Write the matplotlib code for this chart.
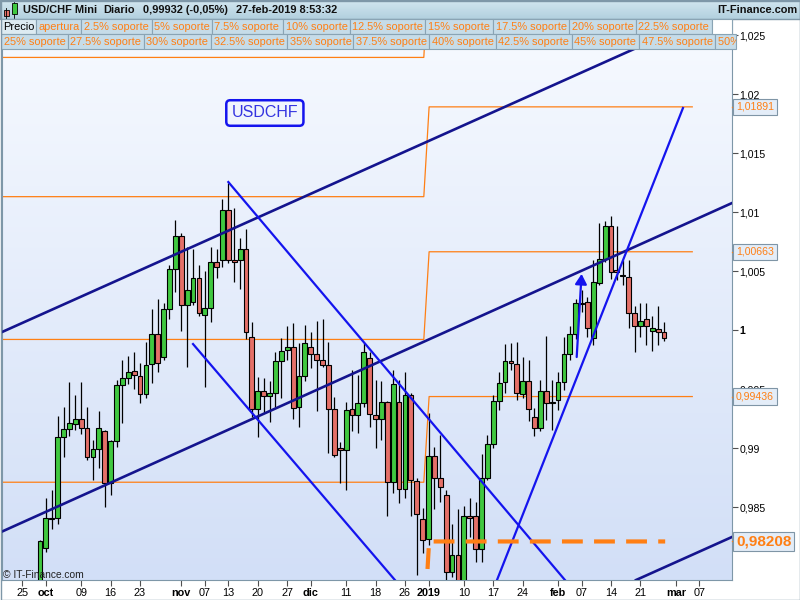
import matplotlib.pyplot as plt
import numpy as np
import pandas as pd
from matplotlib.patches import Rectangle
from matplotlib.colors import LinearSegmentedColormap

plt.rcParams['font.family'] = ['Liberation Sans', 'DejaVu Sans']

# calendario de sesiones: sin fines de semana, sin 25-dic ni 1-ene
cal = pd.bdate_range("2018-09-24", "2019-03-20")
cal = cal[~cal.isin(pd.to_datetime(["2018-12-25", "2019-01-01"]))]
pos = {d: i for i, d in enumerate(cal)}
dates = cal[(cal >= "2018-09-28") & (cal <= "2019-02-27")]

# USD/CHF diario
opens = [0.9765, 0.9815, 0.9840, 0.9841, 0.9909, 0.9916, 0.9920, 0.9925, 0.9917, 0.9892,
         0.9899, 0.9914, 0.9870, 0.9906, 0.9953, 0.9959, 0.9965, 0.9961, 0.9946, 0.9971,
         0.9997, 0.9977, 1.0018, 1.0052, 1.0080, 1.0021, 1.0024, 1.0044, 1.0013, 1.0019,
         1.0058, 1.0059, 1.0102, 1.0059, 1.0059, 1.0069, 0.9994, 0.9933, 0.9948, 0.9944,
         0.9947, 0.9974, 0.9983, 0.9986, 0.9935, 0.9961, 0.9986, 0.9980, 0.9975, 0.9970,
         0.9933, 0.9900, 0.9898, 0.9933, 0.9928, 0.9938, 0.9976, 0.9928, 0.9925, 0.9939,
         0.9871, 0.9939, 0.9865, 0.9945, 0.9872, 0.9840, 0.9823, 0.9893, 0.9875, 0.9860,
         0.9795, 0.9809, 0.9780, 0.9842, 0.9842, 0.9814, 0.9875, 0.9903, 0.9940, 0.9956,
         0.9974, 0.9971, 0.9946, 0.9957, 0.9926, 0.9917, 0.9948, 0.9939, 0.9941, 0.9956,
         0.9980, 0.9997, 1.0023, 1.0024, 0.9993, 1.0040, 1.0060, 1.0088, 1.0051, 1.0046,
         1.0045, 1.0014, 1.0003, 1.0009, 0.9999, 1.0001, 0.9998]
highs = [0.9822, 0.9858, 0.9864, 0.9927, 0.9935, 0.9956, 0.9945, 0.9956, 0.9935, 0.9907,
         0.9931, 0.9915, 0.9907, 0.9958, 0.9975, 0.9978, 0.9981, 0.9972, 0.9990, 1.0018,
         1.0026, 1.0023, 1.0055, 1.0093, 1.0082, 1.0070, 1.0069, 1.0055, 1.0050, 1.0070,
         1.0069, 1.0111, 1.0125, 1.0103, 1.0078, 1.0086, 1.0007, 0.9960, 0.9959, 0.9957,
         0.9981, 0.9993, 1.0003, 1.0006, 0.9989, 1.0004, 0.9998, 1.0008, 1.0009, 0.9990,
         0.9943, 0.9905, 0.9939, 0.9966, 0.9962, 0.9989, 0.9981, 0.9958, 0.9957, 0.9940,
         0.9966, 0.9958, 0.9964, 0.9947, 0.9875, 0.9849, 0.9930, 0.9901, 0.9911, 0.9864,
         0.9836, 0.9848, 0.9851, 0.9858, 0.9854, 0.9895, 0.9911, 0.9945, 0.9964, 0.9988,
         0.9989, 0.9990, 0.9977, 0.9975, 0.9934, 0.9958, 0.9995, 0.9958, 0.9964, 0.9994,
         1.0003, 1.0026, 1.0034, 1.0028, 1.0059, 1.0091, 1.0092, 1.0097, 1.0088, 1.0059,
         1.0059, 1.0020, 1.0023, 1.0023, 1.0012, 1.0020, 1.0007]
lows = [0.9758, 0.9812, 0.9831, 0.9836, 0.9892, 0.9910, 0.9915, 0.9912, 0.9890, 0.9873,
        0.9883, 0.9850, 0.9860, 0.9901, 0.9921, 0.9954, 0.9950, 0.9938, 0.9942, 0.9955,
        0.9964, 0.9975, 1.0009, 1.0032, 0.9999, 0.9969, 1.0021, 1.0012, 0.9952, 1.0007,
        1.0044, 1.0053, 1.0057, 1.0041, 1.0035, 0.9992, 0.9926, 0.9909, 0.9930, 0.9922,
        0.9935, 0.9942, 0.9975, 0.9925, 0.9918, 0.9957, 0.9968, 0.9931, 0.9969, 0.9896,
        0.9892, 0.9870, 0.9864, 0.9914, 0.9913, 0.9935, 0.9918, 0.9900, 0.9907, 0.9842,
        0.9862, 0.9853, 0.9858, 0.9842, 0.9792, 0.9811, 0.9818, 0.9848, 0.9854, 0.9779,
        0.9791, 0.9772, 0.9772, 0.9825, 0.9803, 0.9803, 0.9873, 0.9900, 0.9932, 0.9947,
        0.9966, 0.9941, 0.9942, 0.9923, 0.9910, 0.9914, 0.9924, 0.9915, 0.9932, 0.9949,
        0.9975, 0.9992, 1.0015, 0.9994, 0.9987, 1.0038, 1.0058, 1.0043, 1.0042, 1.0038,
        1.0002, 0.9981, 0.9994, 0.9987, 0.9982, 0.9987, 0.9991]
closes = [0.9821, 0.9841, 0.9841, 0.9909, 0.9916, 0.9921, 0.9925, 0.9917, 0.9892, 0.9899,
          0.9917, 0.9870, 0.9906, 0.9953, 0.9959, 0.9964, 0.9962, 0.9946, 0.9970, 0.9997,
          0.9972, 1.0018, 1.0052, 1.0080, 1.0021, 1.0034, 1.0044, 1.0014, 1.0019, 1.0058,
          1.0053, 1.0102, 1.0059, 1.0058, 1.0069, 0.9998, 0.9933, 0.9948, 0.9944, 0.9947,
          0.9974, 0.9982, 0.9986, 0.9934, 0.9961, 0.9989, 0.9980, 0.9975, 0.9970, 0.9933,
          0.9894, 0.9898, 0.9932, 0.9928, 0.9938, 0.9981, 0.9929, 0.9925, 0.9939, 0.9871,
          0.9954, 0.9865, 0.9945, 0.9873, 0.9844, 0.9822, 0.9893, 0.9875, 0.9867, 0.9795,
          0.9809, 0.9780, 0.9842, 0.9841, 0.9814, 0.9875, 0.9903, 0.9940, 0.9955, 0.9974,
          0.9972, 0.9947, 0.9957, 0.9933, 0.9917, 0.9948, 0.9938, 0.9938, 0.9956, 0.9980,
          0.9997, 1.0023, 1.0022, 1.0002, 1.0041, 1.0060, 1.0088, 1.0049, 1.0049, 1.0046,
          1.0014, 1.0003, 1.0008, 1.0003, 1.0002, 0.9998, 0.9993]

# niveles (pivotes anuales): 2018 y 2019
niveles_2018 = [1.0231, 1.0113, 0.9992, 0.9871]
niveles_2019 = [1.0312, 1.01891, 1.00663, 0.99436]
apertura_2018 = 0.9743
apertura_2019 = 0.98208

# lineas de tendencia: (posicion en calendario, precio)
canal_sup = [(-2.8, 0.99975), (104.9, 1.02381)]
canal_inf = [(-2.8, 0.98284), (121.55, 1.01076)]
canal_3 = [(105.24, 0.97881), (121.55, 0.98246)]
bajista_1 = [(36.0, 1.01254), (93.18, 0.97881)]
bajista_2 = [(30.0, 0.99881), (64.3, 0.97881)]
alcista = [(81.63, 0.97881), (113.22, 1.01881)]
flecha = [(95.17, 0.99771), (96.0, 1.00475)]

tick_dates = ["2018-09-25", "2018-10-01", "2018-10-09", "2018-10-16", "2018-10-23",
              "2018-11-01", "2018-11-07", "2018-11-13", "2018-11-20", "2018-11-27",
              "2018-12-03", "2018-12-11", "2018-12-18", "2018-12-26", "2019-01-02",
              "2019-01-10", "2019-01-17", "2019-01-24", "2019-02-01", "2019-02-07",
              "2019-02-14", "2019-02-21", "2019-03-01", "2019-03-07"]
tick_labels = ["25", "oct", "09", "16", "23", "nov", "07", "13", "20", "27", "dic", "11",
               "18", "26", "2019", "10", "17", "24", "feb", "07", "14", "21", "mar", "07"]
bold_labels = ["oct", "nov", "dic", "2019", "feb", "mar"]
yticks = [0.985, 0.99, 0.995, 1.0, 1.005, 1.01, 1.015, 1.02, 1.025]

fila1 = ["Precio", "apertura", "2.5% soporte", "5% soporte", "7.5% soporte", "10% soporte",
         "12.5% soporte", "15% soporte", "17.5% soporte", "20% soporte", "22.5% soporte"]
fila2 = ["25% soporte", "27.5% soporte", "30% soporte", "32.5% soporte", "35% soporte",
         "37.5% soporte", "40% soporte", "42.5% soporte", "45% soporte", "47.5% soporte",
         "50% soporte"]
x_fila1 = [1, 36, 81, 152, 212, 283, 350, 425, 493, 569, 636, 712]
x_fila2 = [1, 68, 144, 211, 287, 353, 429, 496, 572, 639, 715, 790]

GREEN, RED = '#40C840', '#E47068'
ORANGE = '#FF7F14'
NAVY, BLUE = '#14148E', '#1414EE'
BORDER = '#7E97A8'

W, H = 800, 600
def frac(x0, y0, x1, y1):
    return [x0 / W, 1 - y1 / H, (x1 - x0) / W, (y1 - y0) / H]

fig = plt.figure(figsize=(8, 6), dpi=100, facecolor='white')
ax = fig.add_axes(frac(2, 19, 732, 580))

bg = LinearSegmentedColormap.from_list('bg', ['#F7FAFF', '#D2DFF7'])
ax.imshow(np.linspace(0, 1, 256)[:, None], cmap=bg, extent=[0, 1, 0, 1],
          transform=ax.transAxes, aspect='auto', zorder=0)

x0, x1 = -2.45, 121.55
ax.set_xlim(x0, x1)
ax.set_ylim(0.978814, 1.026356)

# niveles naranja
sw0, sw1, fin = 69.2, 70.1, 114.8
for a, b in zip(niveles_2018, niveles_2019):
    ax.plot([x0, sw0, sw1, fin], [a, a, b, b], color=ORANGE, lw=0.9, zorder=2)
ax.plot([x0, sw0, sw1, 110.2], [apertura_2018, apertura_2018, apertura_2019, apertura_2019],
        color=ORANGE, lw=3, dashes=(5, 2.7), zorder=6)

# velas
o, h, l, c = map(np.array, (opens, highs, lows, closes))
xs = np.array([pos[d] for d in dates])
up = c >= o
ax.vlines(xs, l, h, color='black', lw=0.9, zorder=3)
ax.bar(xs, np.maximum(np.abs(c - o), 0.00004), bottom=np.minimum(o, c), width=0.82,
       color=np.where(up, GREEN, RED), edgecolor='black', lw=0.8, zorder=4)

# lineas de tendencia
for ln in (canal_sup, canal_inf, canal_3):
    ax.plot(*zip(*ln), color=NAVY, lw=1.9, zorder=5)
for ln in (bajista_1, bajista_2, alcista):
    ax.plot(*zip(*ln), color=BLUE, lw=1.6, zorder=5)
ax.annotate("", xy=flecha[1], xytext=flecha[0],
            arrowprops=dict(arrowstyle='-|>,head_length=0.6,head_width=0.35', color=BLUE,
                            lw=1.6, shrinkA=0, shrinkB=0, mutation_scale=10), zorder=5)

ax.text(42.2, 1.01839, "USDCHF", fontsize=11.5, color='#3434E0', ha='center', va='center',
        bbox=dict(boxstyle='round,pad=0.33,rounding_size=0.25', fc='none', ec=BLUE, lw=1.8),
        zorder=6)

# ejes
for s in ('left', 'bottom', 'right'):
    ax.spines[s].set_color(BORDER)
ax.spines['top'].set_visible(False)
ax.yaxis.tick_right()
ax.set_yticks(yticks)
ax.set_yticklabels([f"{v:g}".replace('.', ',') for v in yticks])
ax.tick_params(axis='y', direction='out', length=4, width=0.8, color='#505050',
               labelsize=7.6, pad=1.5)
for t in ax.get_yticklabels():
    if t.get_text() == "1":
        t.set_fontweight('bold')
ax.set_xticks([pos[pd.Timestamp(d)] for d in tick_dates])
ax.set_xticklabels(tick_labels)
ax.tick_params(axis='x', direction='out', length=4, width=0.8, color='#505050',
               labelsize=7.8, pad=1.5)
for t in ax.get_xticklabels():
    if t.get_text() in bold_labels:
        t.set_fontweight('bold')

ytr = ax.get_yaxis_transform()
for v in niveles_2019[1:]:
    ax.plot([1.0, 1.005], [v, v], color=ORANGE, lw=0.9, transform=ytr, clip_on=False, zorder=9)
    ax.text(1.0055, v, f"{v:.5f}".replace('.', ','), transform=ytr, ha='left', va='center',
            fontsize=7.6, color=ORANGE, clip_on=False, zorder=10,
            bbox=dict(boxstyle='square,pad=0.3', fc='#E4EDF8', ec='#7F95A6', lw=0.8))
ax.plot([1.0, 1.005], [apertura_2019] * 2, color=ORANGE, lw=0.9, transform=ytr,
        clip_on=False, zorder=9)
ax.text(1.0055, apertura_2019, f"{apertura_2019:.5f}".replace('.', ','), transform=ytr,
        ha='left', va='center', fontsize=11, fontweight='bold', color=ORANGE, clip_on=False,
        zorder=10, bbox=dict(boxstyle='square,pad=0.18', fc='#E4EDF8', ec='#7F95A6', lw=0.8))

# cabecera y leyenda (coordenadas de pixel)
ov = fig.add_axes([0, 0, 1, 1], zorder=10)
ov.patch.set_visible(False)
hdr = LinearSegmentedColormap.from_list('hdr', ['#D2E6F0', '#B2D0DE'])
ov.imshow(np.linspace(0, 1, 64)[:, None], cmap=hdr, extent=[0, 800, 19, 0], aspect='auto')
ov.set_xlim(0, 800)
ov.set_ylim(600, 0)
ov.axis('off')
ov.add_patch(Rectangle((0, 0), 800, 19, fill=False, ec=BORDER, lw=1))

ov.add_patch(Rectangle((3.5, 10), 5, 6, fc=RED, ec='black', lw=0.6))
ov.plot([6, 6], [8, 18], color='black', lw=0.6)
ov.add_patch(Rectangle((11.5, 3), 5, 11, fc=GREEN, ec='black', lw=0.6))
ov.plot([14, 14], [1.5, 18], color='black', lw=0.6, zorder=0)

hf = dict(fontsize=7.9, fontweight='bold', va='center', color='#111111')
ov.text(23, 10, "USD/CHF Mini", **hf)
ov.text(103, 10, "Diario", **hf)
ov.text(143, 10, "0,99932 (-0,05%)", **hf)
ov.text(236, 10, "27-feb-2019 8:53:32", **hf)
ov.text(797, 10, "IT-Finance.com", ha='right', **hf)

for fila, xl, y0 in ((fila1, x_fila1, 19), (fila2, x_fila2, 34)):
    for i, txt in enumerate(fila):
        left = xl[i]
        right = min(xl[i + 1], 736)
        fc = '#DDEBF2' if txt == "Precio" else '#C6DCE8'
        cell = Rectangle((left, y0), right - left, 15, fc=fc, ec='#8AA4B4', lw=0.8)
        ov.add_patch(cell)
        t = ov.text(left + 2.5, y0 + 7.8, txt, fontsize=7.9, va='center', clip_on=True,
                    color='black' if txt == "Precio" else ORANGE)
        t.set_clip_path(cell)
ov.add_patch(Rectangle((712, 19), 20, 15, fc='white', ec='#8AA4B4', lw=0.8))

ov.text(3, 575, "\u00a9 IT-Finance.com", fontsize=7.4, va='center', color='#222222')
ov.add_patch(Rectangle((0.5, 0.5), 799, 599, fill=False, ec=BORDER, lw=1))

fig.savefig("out.png", dpi=100, facecolor='white')
